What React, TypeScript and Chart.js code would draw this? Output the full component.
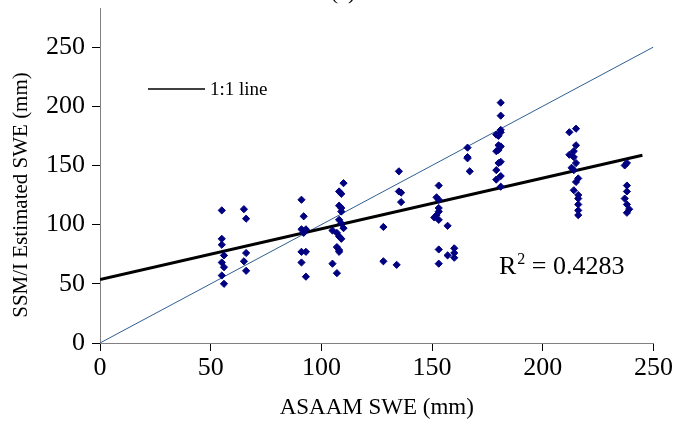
import React, { useEffect, useRef } from "react";
import { Chart, registerables } from "chart.js";

Chart.register(...registerables);

// ASAAM SWE (mm) of each observation
const obsX: number[] = [
  55, 55, 55, 56, 55, 56, 55, 56,
  65, 66, 66, 65, 66,
  91, 92, 91, 93, 92, 91, 93, 91, 93,
  110, 108, 109, 108, 109, 109, 108, 109, 110, 105, 107, 108, 109, 107, 108, 108, 105, 107,
  128, 128,
  135, 135, 136, 136, 134,
  153, 152, 153, 153, 153, 152, 151, 153, 157, 153, 157, 153, 160, 160, 160,
  166, 166, 166, 167,
  181, 181, 181, 181, 179, 180, 180, 181, 180, 179, 181, 180, 179, 181, 179, 181,
  212, 215, 215, 214, 212, 214, 215, 213, 214, 216, 215, 214, 216, 216, 216, 216, 216,
  238, 237, 238, 238, 237, 238, 239, 238,
];

// SSM/I estimated SWE (mm) of each observation
const obsY: number[] = [
  112, 88, 83, 74, 68, 64, 57, 50,
  113, 105, 76, 69, 61,
  121, 107, 96, 96, 93, 77, 77, 68, 56,
  135, 128, 126, 116, 114, 111, 104, 101, 97, 95, 93, 90, 88, 81, 78.5, 77, 67, 59,
  98, 69,
  145, 128, 127, 119, 66,
  133, 123, 121, 114, 111, 108, 106, 104, 99, 79, 74, 67, 80, 76, 72,
  165, 157, 156, 145,
  203, 192, 180, 178, 176, 175, 167, 166, 163, 162, 153, 152, 146, 141, 138, 132,
  178, 181, 167, 162, 159, 157, 152, 148, 146, 139, 136, 129, 125, 122, 117, 112, 108,
  152, 150, 133, 128, 122, 117, 113, 110,
];

// linear trend line ends
const trendX: number[] = [0, 245];
const trendY: number[] = [53.5, 158.5];

// 1:1 line ends
const oneX: number[] = [0, 250];
const oneY: number[] = [0, 250];

const xTicks: number[] = [0, 50, 100, 150, 200, 250];
const yTicks: number[] = [0, 50, 100, 150, 200, 250];

const serif = "'Liberation Serif', 'Times New Roman', serif";

export default function App() {
  const ref = useRef<HTMLCanvasElement | null>(null);

  useEffect(() => {
    if (!ref.current) return;

    const extras = {
      id: "extras",
      afterDraw(chart: any) {
        const ctx = chart.ctx;
        const { left, top } = chart.chartArea;
        ctx.save();
        // y axis line continues above the plot
        ctx.strokeStyle = "#808080";
        ctx.lineWidth = 1;
        ctx.beginPath();
        ctx.moveTo(left + 0.5, 8);
        ctx.lineTo(left + 0.5, top);
        ctx.stroke();

        // legend
        ctx.strokeStyle = "#000";
        ctx.lineWidth = 1.5;
        ctx.beginPath();
        ctx.moveTo(148, 89);
        ctx.lineTo(205, 89);
        ctx.stroke();
        ctx.fillStyle = "#000";
        ctx.textBaseline = "middle";
        ctx.textAlign = "left";
        ctx.font = `19px ${serif}`;
        ctx.fillText("1:1 line", 210, 90);

        // R squared
        ctx.textBaseline = "alphabetic";
        ctx.font = `26px ${serif}`;
        ctx.fillText("R", 499, 274);
        const rw = ctx.measureText("R").width;
        ctx.font = `16px ${serif}`;
        ctx.fillText("2", 499 + rw + 1, 264);
        const sw = ctx.measureText("2").width;
        ctx.font = `26px ${serif}`;
        ctx.fillText(" = 0.4283", 499 + rw + sw + 1, 274);

        // title (cropped at top)
        ctx.textAlign = "center";
        ctx.font = `22px ${serif}`;
        ctx.fillText("(a)", 343, -1);
        ctx.restore();
      },
    };

    const chart = new Chart(ref.current, {
      type: "scatter",
      data: {
        datasets: [
          {
            label: "obs",
            data: obsX.map((x, i) => ({ x, y: obsY[i] })),
            pointStyle: "rectRot",
            pointRadius: 3.6,
            backgroundColor: "#000080",
            borderColor: "#000080",
            borderWidth: 1,
            order: 1,
          },
          {
            label: "1:1 line",
            type: "line",
            data: oneX.map((x, i) => ({ x, y: oneY[i] })),
            borderColor: "#2F5F8F",
            borderWidth: 1,
            pointRadius: 0,
            showLine: true,
            order: 3,
          },
          {
            label: "trend",
            type: "line",
            data: trendX.map((x, i) => ({ x, y: trendY[i] })),
            borderColor: "#000",
            borderWidth: 3,
            pointRadius: 0,
            showLine: true,
            order: 2,
          },
        ],
      },
      options: {
        animation: false,
        responsive: false,
        layout: { padding: { top: 47, right: 20, left: 0, bottom: 0 } },
        plugins: {
          legend: { display: false },
          tooltip: { enabled: false },
        },
        scales: {
          x: {
            type: "linear",
            min: 0,
            max: 250,
            afterBuildTicks: (s: any) => {
              s.ticks = xTicks.map((v) => ({ value: v }));
            },
            afterFit: (s: any) => {
              s.height = 87;
            },
            ticks: {
              font: { family: serif, size: 26 },
              color: "#000",
              padding: 2,
              maxRotation: 0,
            },
            grid: {
              drawOnChartArea: false,
              drawTicks: true,
              tickLength: 8,
              color: "#000",
            },
            border: { color: "#808080", width: 1 },
            title: {
              display: true,
              text: "ASAAM SWE (mm)",
              font: { family: serif, size: 23 },
              color: "#000",
              padding: { top: 0, bottom: 8 },
            },
          },
          y: {
            type: "linear",
            min: 0,
            max: 250,
            afterBuildTicks: (s: any) => {
              s.ticks = yTicks.map((v) => ({ value: v }));
            },
            afterFit: (s: any) => {
              s.width = 100;
            },
            ticks: {
              font: { family: serif, size: 26 },
              color: "#000",
              padding: 7,
            },
            grid: {
              drawOnChartArea: false,
              drawTicks: true,
              tickLength: 8,
              color: "#000",
            },
            border: { color: "#808080", width: 1 },
            title: {
              display: true,
              text: "SSM/I Estimated SWE (mm)",
              font: { family: serif, size: 21 },
              color: "#000",
              padding: { top: 9, bottom: 0 },
            },
          },
        },
      },
      plugins: [extras],
    } as any);

    return () => chart.destroy();
  }, []);

  return (
    <div style={{ position: "fixed", left: 0, top: 0, width: 675, height: 430, background: "#fff" }}>
      <canvas ref={ref} width={675} height={430} style={{ display: "block" }} />
    </div>
  );
}
